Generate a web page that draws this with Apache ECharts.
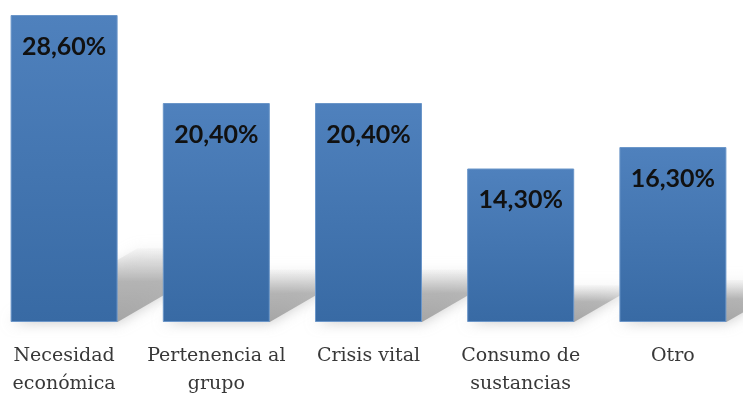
<!DOCTYPE html>
<html>
<head>
<meta charset="utf-8">
<script src="https://cdn.jsdelivr.net/npm/echarts@6/dist/echarts.min.js"></script>
<style>
  html, body { margin: 0; padding: 0; background: #fff; overflow: hidden; }
  /* slightly wider than the window so the category bands line up with the reference */
  #chart { width: 761px; height: 400px; margin-left: -12px; }
</style>
</head>
<body>
<div id="chart"></div>
<script>
const categories = ['Necesidad\neconómica', 'Pertenencia al\ngrupo', 'Crisis vital', 'Consumo de\nsustancias', 'Otro']
const values = [28.6, 20.4, 20.4, 14.3, 16.3]
const labels = ['28,60%', '20,40%', '20,40%', '14,30%', '16,30%']

const BAR_W = 107

const chart = echarts.init(document.getElementById('chart'))

// soft floor shadow, cast to the upper right behind each bar
function renderShadow(params, api) {
  const idx = api.value(0)
  const base = api.coord([idx, 0])
  const top = api.coord([idx, api.value(1)])
  const h = (base[1] - top[1]) * 0.24
  const dx = h / 0.58
  const xl = base[0] - BAR_W / 2
  const xr = base[0] + BAR_W / 2
  return {
    type: 'polygon',
    shape: { points: [[xl, base[1]], [xr, base[1]], [xr + dx, base[1] - h], [xl + dx, base[1] - h]] },
    style: {
      fill: new echarts.graphic.LinearGradient(0, 0, 0, 1, [
        { offset: 0, color: 'rgba(225,225,225,0.2)' },
        { offset: 0.45, color: 'rgba(175,175,175,0.85)' },
        { offset: 1, color: 'rgba(165,165,165,1)' }
      ]),
      shadowBlur: 14,
      shadowColor: 'rgba(175,175,175,0.7)'
    }
  }
}

const option = {
  animation: false,
  grid: { left: 0, right: 0, top: 15, bottom: 78 },
  xAxis: {
    type: 'category',
    data: categories,
    axisLine: { show: false },
    axisTick: { show: false },
    axisLabel: {
      interval: 0,
      margin: 20,
      fontFamily: 'DejaVu Serif',
      fontSize: 19,
      lineHeight: 28,
      color: '#383838'
    }
  },
  yAxis: { type: 'value', min: 0, max: 28.6, show: false, splitLine: { show: false } },
  series: [
    {
      type: 'custom',
      renderItem: renderShadow,
      data: values.map((v, i) => [i, v]),
      z: 1,
      silent: true
    },
    {
      type: 'bar',
      data: values,
      barWidth: BAR_W,
      z: 2,
      itemStyle: {
        color: new echarts.graphic.LinearGradient(0, 0, 0, 1, [
          { offset: 0, color: '#4f81bd' },
          { offset: 1, color: '#386aa4' }
        ]),
        borderColor: '#6b96c9',
        borderWidth: 1
      },
      label: {
        show: true,
        position: 'insideTop',
        distance: 19,
        formatter: p => labels[p.dataIndex],
        fontFamily: 'Lato',
        fontWeight: 'bold',
        fontSize: 25,
        color: '#111'
      }
    }
  ]
}

chart.setOption(option)
</script>
</body>
</html>
